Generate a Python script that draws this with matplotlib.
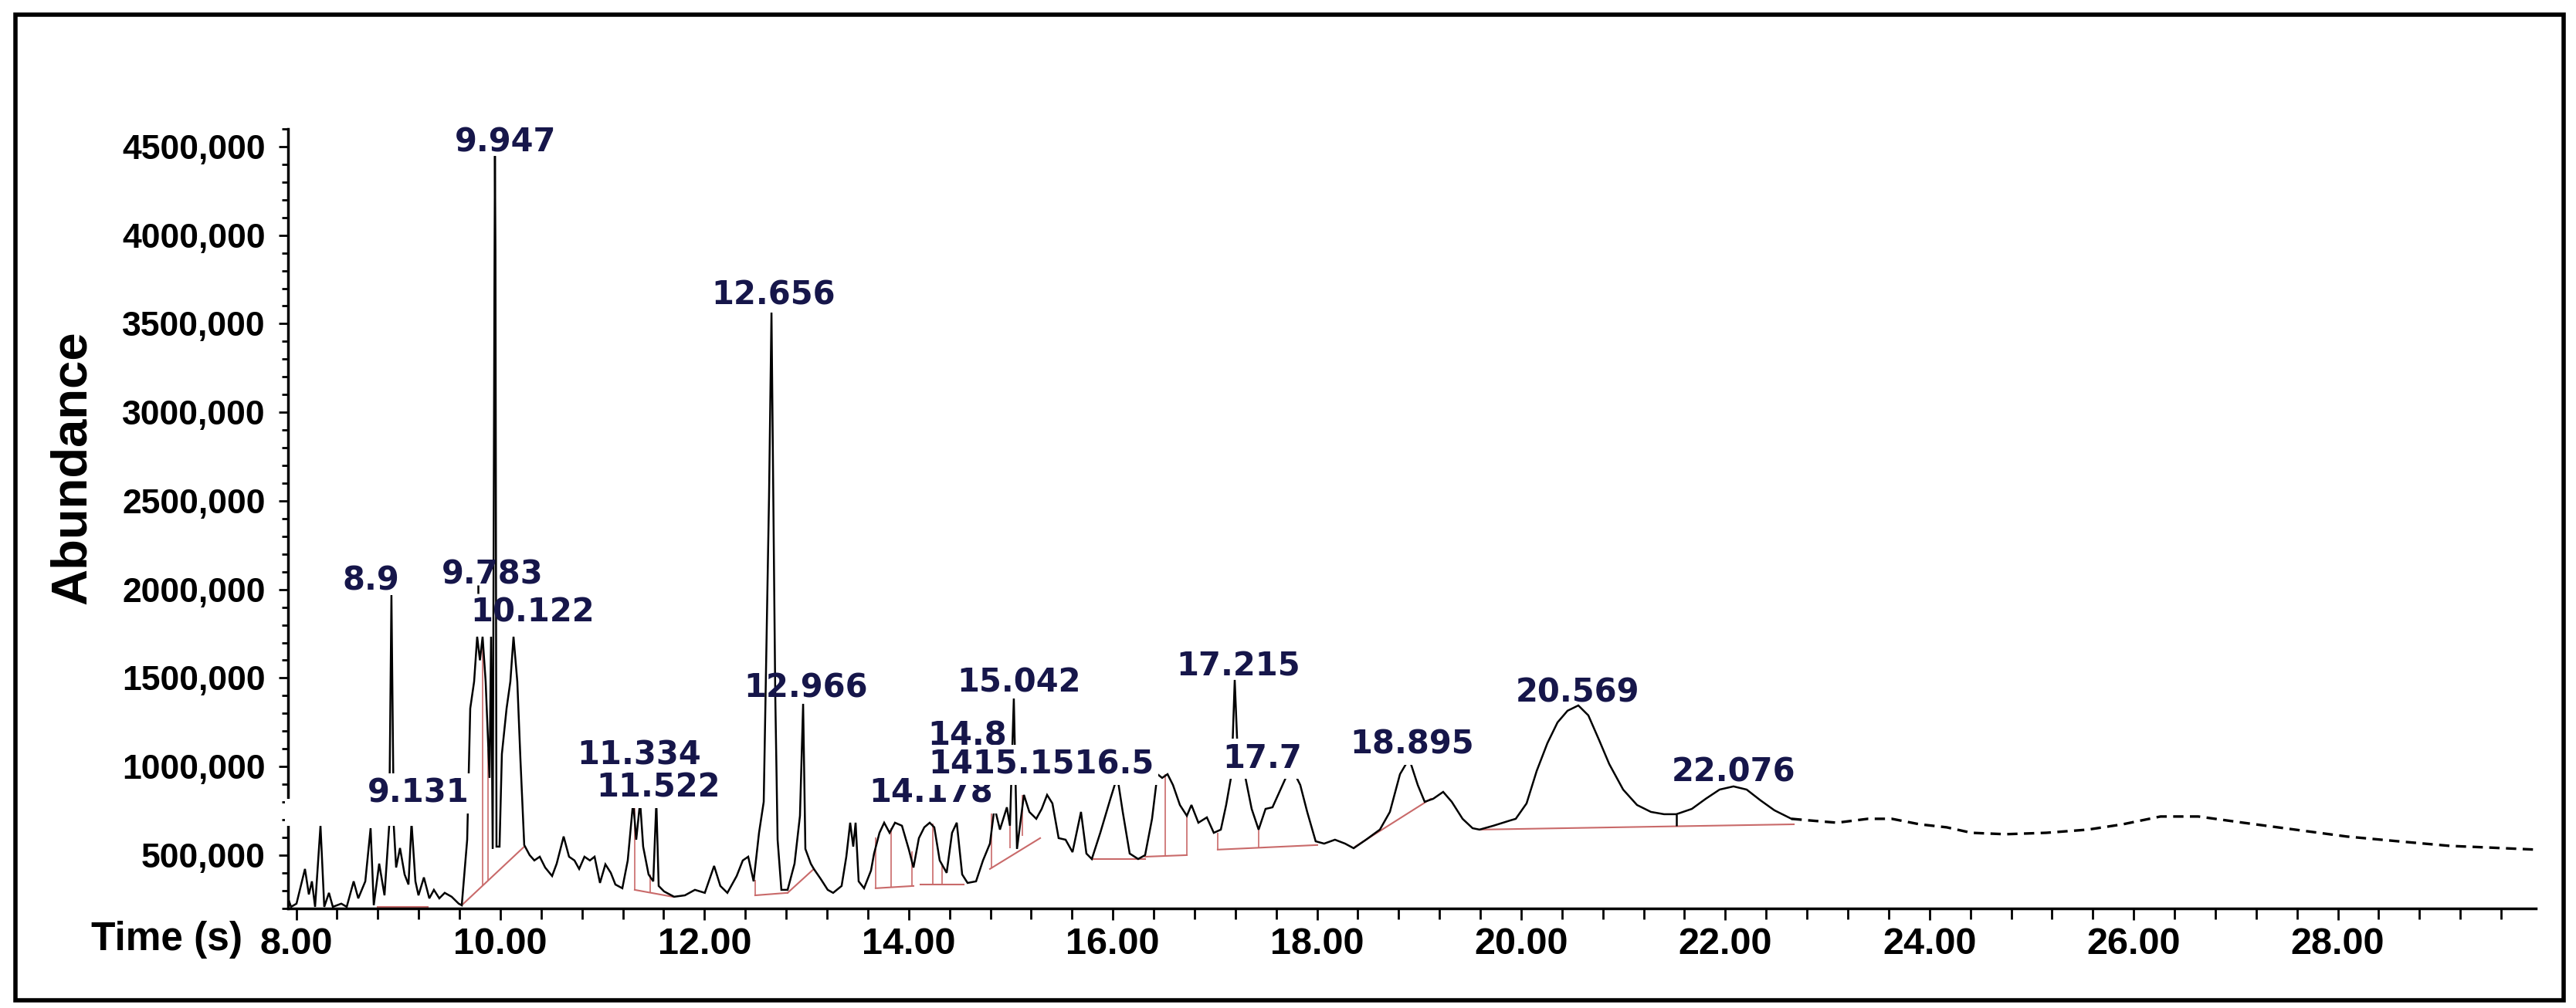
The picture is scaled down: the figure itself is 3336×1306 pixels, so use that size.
import matplotlib
matplotlib.use("Agg")
import matplotlib.pyplot as plt
from matplotlib.ticker import FixedLocator, FixedFormatter, MultipleLocator
from matplotlib.patches import Rectangle
import numpy as np

# ---------------- data ----------------
# retention time (min) and abundance (thousands of counts)
time_main = [7.920, 7.950, 8.003, 8.086, 8.124, 8.154, 8.185, 8.238, 8.275, 8.321, 8.359, 8.442,
             8.495, 8.563, 8.608, 8.677, 8.729, 8.760, 8.813, 8.865, 8.911, 8.933, 8.956, 8.979,
             9.017, 9.062, 9.100, 9.130, 9.168, 9.198, 9.251, 9.304, 9.349, 9.402, 9.455, 9.523,
             9.592, 9.622, 9.675, 9.705, 9.743, 9.773, 9.800, 9.826, 9.856, 9.894, 9.909, 9.925,
             9.942, 9.947, 9.952, 9.962, 9.992, 10.015, 10.061, 10.098, 10.129, 10.166, 10.197, 10.234,
             10.287, 10.333, 10.386, 10.439, 10.507, 10.552, 10.620, 10.673, 10.726, 10.772, 10.824, 10.877,
             10.923, 10.976, 11.029, 11.082, 11.127, 11.195, 11.248, 11.301, 11.331, 11.369, 11.399, 11.452,
             11.498, 11.528, 11.551, 11.604, 11.702, 11.808, 11.906, 12.003, 12.094, 12.155, 12.224, 12.315,
             12.375, 12.428, 12.481, 12.534, 12.580, 12.632, 12.656, 12.693, 12.716, 12.753, 12.814, 12.882,
             12.935, 12.966, 12.988, 13.041, 13.071, 13.139, 13.207, 13.260, 13.343, 13.389, 13.427, 13.457,
             13.480, 13.510, 13.563, 13.631, 13.661, 13.714, 13.760, 13.813, 13.866, 13.934, 14.002, 14.047,
             14.100, 14.153, 14.206, 14.251, 14.304, 14.372, 14.425, 14.471, 14.524, 14.577, 14.660, 14.728,
             14.796, 14.841, 14.894, 14.962, 14.992, 15.030, 15.061, 15.129, 15.182, 15.250, 15.303, 15.356,
             15.408, 15.469, 15.537, 15.605, 15.688, 15.741, 15.794, 15.877, 15.976, 16.044, 16.097, 16.165,
             16.248, 16.316, 16.384, 16.437, 16.483, 16.536, 16.589, 16.657, 16.725, 16.770, 16.838, 16.921,
             16.989, 17.058, 17.110, 17.163, 17.194, 17.231, 17.292, 17.360, 17.428, 17.496, 17.564, 17.632,
             17.700, 17.768, 17.836, 17.904, 17.987, 18.070, 18.176, 18.275, 18.359, 18.480, 18.616, 18.714,
             18.813, 18.903, 18.987, 19.055, 19.138, 19.236, 19.320, 19.426, 19.524, 19.592, 19.728, 19.894,
             19.947, 20.053, 20.152, 20.257, 20.356, 20.454, 20.560, 20.658, 20.764, 20.863, 20.999, 21.135,
             21.271, 21.400, 21.520, 21.672, 21.808, 21.944, 22.080, 22.209, 22.345, 22.481, 22.648]
abund_main_k = [256, 208, 226, 422, 278, 352, 208, 666, 208, 287, 208, 226,
                208, 352, 256, 352, 652, 217, 452, 273, 666, 1968, 666, 430,
                540, 391, 334, 683, 352, 273, 374, 256, 304, 256, 287, 265,
                226, 217, 587, 1328, 1480, 1733, 1600, 1733, 1480, 936, 1733, 535,
                3690, 4447, 3907, 548, 548, 1071, 1328, 1480, 1733, 1480, 1036, 557,
                500, 470, 491, 430, 382, 452, 605, 491, 470, 422, 491, 470,
                491, 343, 448, 400, 334, 313, 470, 801, 587, 801, 548, 391,
                352, 801, 326, 295, 265, 273, 304, 287, 439, 326, 287, 382,
                470, 491, 352, 626, 801, 2522, 3563, 1406, 587, 304, 304, 452,
                722, 1354, 535, 452, 422, 365, 304, 287, 326, 491, 683, 548,
                683, 352, 313, 413, 509, 626, 683, 626, 683, 666, 531, 430,
                596, 657, 683, 657, 470, 400, 626, 683, 391, 343, 352, 470,
                565, 770, 644, 770, 666, 1384, 535, 840, 744, 705, 761, 840,
                792, 596, 587, 517, 744, 509, 478, 626, 818, 944, 744, 509,
                478, 500, 705, 957, 936, 957, 896, 783, 722, 783, 683, 713,
                626, 644, 783, 957, 1489, 957, 957, 761, 644, 761, 770, 857,
                944, 975, 896, 744, 578, 565, 587, 565, 539, 587, 644, 744,
                957, 1045, 896, 801, 818, 857, 801, 705, 652, 644, 666, 696,
                705, 792, 975, 1132, 1249, 1315, 1345, 1289, 1149, 1014, 870, 783,
                744, 731, 731, 761, 818, 870, 888, 870, 809, 753, 705]

time_tail = [22.648, 22.822, 23.094, 23.397, 23.631, 23.903, 24.168, 24.410, 24.743, 25.144,
             25.552, 25.893, 26.263, 26.634, 27.073, 27.580, 28.087, 28.593, 29.100, 29.433, 29.940]
abund_tail_k = [705, 696, 683, 705, 705, 674, 657, 626, 618, 626,
                644, 674, 718, 718, 683, 644, 605, 578, 552, 544, 531]

# integration baselines (start time, start k, end time, end k)
base_t0 = [8.80, 9.622, 11.316, 12.496, 12.814, 13.676, 14.115, 14.796, 15.794, 16.316, 17.027, 18.374, 19.592]
base_v0 = [208, 217, 304, 273, 287, 313, 334, 422, 478, 491, 531, 548, 644]
base_t1 = [9.29, 10.234, 11.687, 12.814, 13.071, 14.047, 14.539, 15.288, 16.316, 16.725, 18.003, 19.115, 22.671]
base_v1 = [208, 548, 265, 287, 422, 326, 334, 596, 478, 500, 557, 818, 674]

# peak drop lines (time, bottom k, top k)
drop_t = [9.826, 9.879, 11.316, 11.467, 12.496, 13.676, 13.830, 14.030, 14.240, 14.330,
          14.810, 14.990, 15.110, 16.510, 16.725, 17.027, 17.430]
drop_lo = [327, 355, 304, 285, 273, 313, 318, 326, 334, 334, 430, 540, 610, 491, 500, 531, 539]
drop_hi = [1733, 1100, 801, 391, 360, 600, 650, 520, 680, 450, 770, 666, 840, 957, 722, 626, 644]

# peak labels
peak_labels = ["9.947", "8.9", "9.783", "10.122", "9.131", "11.334", "11.522", "12.656", "12.966",
               "14.178", "14.8", "15.042", "1415.1516.5", "17.215", "17.7", "18.895", "20.569", "22.076"]
label_t = [10.053, 8.729, 9.924, 10.318, 9.198, 11.362, 11.551, 12.678, 12.996,
           14.221, 14.576, 15.083, 15.300, 17.231, 17.466, 18.934, 20.553, 22.080]
label_v_k = [4522, 2047, 2082, 1872, 849, 1062, 879, 3659, 1441,
             849, 1171, 1472, 1010, 1567, 1045, 1123, 1415, 966]
label_masked = [False, False, False, False, True, False, True, False, False,
                True, True, False, True, False, True, True, False, False]

y_tick_values = [500000, 1000000, 1500000, 2000000, 2500000, 3000000, 3500000, 4000000, 4500000]
y_tick_labels = ["500,000", "1000,000", "1500,000", "2000,000", "2500,000",
                 "3000,000", "3500,000", "4000,000", "4500,000"]
x_tick_values = [8, 10, 12, 14, 16, 18, 20, 22, 24, 26, 28]
x_tick_labels = ["8.00", "10.00", "12.00", "14.00", "16.00", "18.00", "20.00",
                 "22.00", "24.00", "26.00", "28.00"]

# ---------------- drawing ----------------
plt.rcParams["font.family"] = ["Liberation Sans", "DejaVu Sans"]
plt.rcParams["font.weight"] = "bold"

W, H = 3337, 1306
fig = plt.figure(figsize=(W / 100, H / 100), dpi=100)
fig.patch.set_facecolor("white")

ax = fig.add_axes([373 / W, 1 - 1177 / H, (3284 - 373) / W, (1177 - 167) / H])
ax.set_facecolor("white")

K = 1000.0
ax.plot(time_main, np.array(abund_main_k) * K, color="black", lw=1.8, zorder=3,
        solid_joinstyle="miter")
ax.plot(time_tail, np.array(abund_tail_k) * K, color="black", lw=2.4, zorder=3,
        ls=(0, (4, 2.5)))

red = "#c96a6a"
for t0, v0, t1, v1 in zip(base_t0, base_v0, base_t1, base_v1):
    ax.plot([t0, t1], [v0 * K, v1 * K], color=red, lw=1.5, zorder=2)
ax.vlines(drop_t, np.array(drop_lo) * K, np.array(drop_hi) * K, color=red, lw=1.2, zorder=2)
# small black markers in the reference
ax.vlines([9.78], [1977 * K], [2023 * K], color="black", lw=1.8, zorder=3)
ax.vlines([21.52], [666 * K], [731 * K], color="black", lw=1.8, zorder=3)

# white mask present in the reference under the 9.131 label
ax.add_patch(Rectangle((7.89, 666 * K), 9.62 - 7.89, (818 - 666) * K, facecolor="white",
                       edgecolor="none", zorder=4, clip_on=False))

navy = "#16164a"
for txt, t, v, m in zip(peak_labels, label_t, label_v_k, label_masked):
    kw = dict(ha="center", va="center", fontsize=30, color=navy, zorder=6,
              family="DejaVu Sans", fontweight="bold")
    if m:
        kw["bbox"] = dict(boxstyle="square,pad=0.12", facecolor="white", edgecolor="none")
    ax.text(t, v * K, txt, **kw)

ax.set_xlim(7.92, 29.94)
ax.set_ylim(199 * K, 4600 * K)

for s in ["top", "right"]:
    ax.spines[s].set_visible(False)
for s in ["left", "bottom"]:
    ax.spines[s].set_linewidth(2.5)
    ax.spines[s].set_color("black")

ax.xaxis.set_major_locator(FixedLocator(x_tick_values))
ax.xaxis.set_major_formatter(FixedFormatter(x_tick_labels))
ax.xaxis.set_minor_locator(MultipleLocator(0.4))
ax.yaxis.set_major_locator(FixedLocator(y_tick_values))
ax.yaxis.set_major_formatter(FixedFormatter(y_tick_labels))
ax.yaxis.set_minor_locator(MultipleLocator(100000))

ax.tick_params(axis="x", which="major", direction="out", length=11, width=2, pad=6,
               labelsize=35)
ax.tick_params(axis="x", which="minor", direction="out", length=10, width=2)
ax.tick_params(axis="y", which="major", direction="out", length=9, width=2, pad=12,
               labelsize=32)
ax.tick_params(axis="y", which="minor", direction="out", length=6, width=2)
for lab in ax.get_xticklabels() + ax.get_yticklabels():
    lab.set_fontweight("bold")

fig.text(216 / W, 1 - 1217 / H, "Time (s)", ha="center", va="center", fontsize=37,
         fontweight="bold", color="black")
fig.text(94 / W, 1 - 606 / H, "Abundance", ha="center", va="center", rotation=90,
         fontsize=47, fontweight="bold", color="black")

# outer black frame
fig.add_artist(Rectangle((20 / W, 1 - 1296 / H), (3320 - 20) / W, (1296 - 19) / H,
                         transform=fig.transFigure, facecolor="none", edgecolor="black",
                         lw=4, zorder=10))

fig.savefig("out.png", dpi=100, facecolor="white")
